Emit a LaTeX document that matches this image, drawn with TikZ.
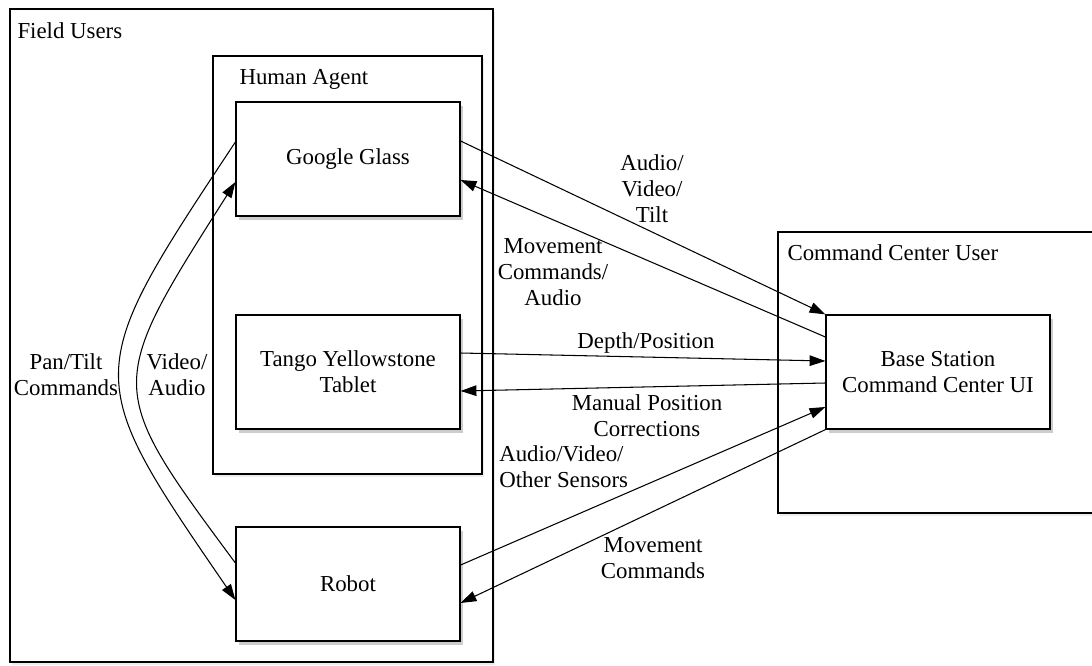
\documentclass[tikz,border=0pt]{standalone}
\usepackage{fontspec}
\setmainfont{Liberation Serif}
\usetikzlibrary{arrows.meta,shadows}

\begin{document}
\begin{tikzpicture}[>={Triangle[length=9pt,width=6pt]}, x=0.02cm, y=-0.02cm, line width=0.6pt,
    font=\fontsize{13}{14.8}\selectfont,
    unit/.style={draw, line width=0.7pt, fill=white, minimum width=4.48cm, minimum height=2.28cm, align=center,
        drop shadow={shadow xshift=1.5pt, shadow yshift=-2pt, opacity=0.4}},
    group/.style={draw, line width=0.7pt, fill=white, inner sep=0pt,
        drop shadow={shadow xshift=1pt, shadow yshift=-1.5pt, opacity=0.15}},
    caption/.style={anchor=base west, inner sep=0pt},
    lbl/.style={align=center, inner sep=1pt}]
    \useasboundingbox (0,0) rectangle (1092,666);
    \clip (0,0) rectangle (1092,666);

    % Groups
    \node[group, minimum width=9.66cm, minimum height=13.06cm] (field) at (251.5,335.5) {};
    \node[caption] (fieldcap) at (17,38) {Field Users};
    \node[group, minimum width=5.38cm, minimum height=8.36cm] (human) at (347.5,265) {};
    \node[caption] (humancap) at (239,84) {Human Agent};
    \node[group, minimum width=6.64cm, minimum height=5.62cm] (center) at (944,372.5) {};
    \node[caption] (centercap) at (787,260) {Command Center User};

    % Devices
    \node[unit] (glass) at (348,159) {Google Glass};
    \node[unit] (tango) at (348,372) {Tango Yellowstone\\Tablet};
    \node[unit] (robot) at (348,584) {Robot};
    \node[unit] (base) at (938,372) {Base Station\\Command Center UI};

    % Glass <-> base
    \draw[->] ([yshift=0.36cm]glass.east) -- (base.north west);
    \draw[->] ([yshift=0.7cm]base.west) -- ([yshift=-0.42cm]glass.east);
    \node[lbl] (avt) at (652,189) {Audio/\\Video/\\Tilt};
    \node[lbl] (mca) at (553,272) {Movement\\Commands/\\Audio};

    % Tablet <-> base
    \draw[->] ([yshift=0.38cm]tango.east) -- ([yshift=0.22cm]base.west);
    \draw[->] ([yshift=-0.22cm]base.west) -- ([yshift=-0.38cm]tango.east);
    \node[lbl] (depth) at (646,343) {Depth/Position};
    \node[lbl] (manual) at (647,416) {Manual Position\\Corrections};

    % Robot <-> base
    \draw[->] ([yshift=0.38cm]robot.east) -- ([yshift=-0.7cm]base.west);
    \draw[->] (base.south west) -- ([yshift=-0.38cm]robot.east);
    \node[lbl, align=left, anchor=west] (sensors) at (497,467) {Audio/Video/\\Other Sensors};
    \node[lbl] (movecmd) at (653,558) {Movement\\Commands};

    % Glass <-> robot
    \draw[->] ([yshift=0.34cm]glass.west) .. controls (81,375) .. ([yshift=-0.32cm]robot.west);
    \draw[->] ([yshift=0.42cm]robot.west) .. controls (105,387) .. ([yshift=-0.46cm]glass.west);
    \node[lbl] (pantilt) at (66,375) {Pan/Tilt\\Commands};
    \node[lbl] (vidaud) at (177,375) {Video/\\Audio};
\end{tikzpicture}
\end{document}
